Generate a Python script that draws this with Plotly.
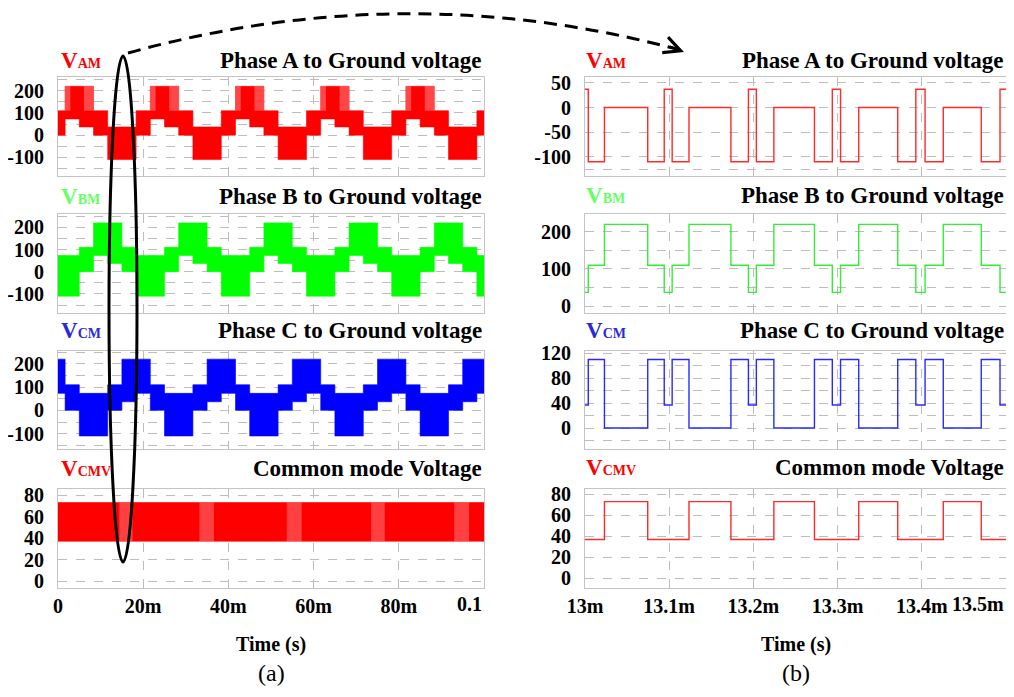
import plotly.graph_objects as go

# page has an 8px body margin; figure is sized to fit the 1014x697 window inside it
OFF = 8
W, H = 1014 - 2 * OFF, 697 - 2 * OFF

# ---------------- (a) full-time waveforms: band envelopes (time in ms) ----------------
A_t = [0, 1.67, 5, 8.33, 11.67, 18.33, 21.67, 25, 28.33, 31.67, 38.33, 41.67, 45, 48.33, 51.67,
       58.33, 61.67, 65, 68.33, 71.67, 78.33, 81.67, 85, 88.33, 91.67, 98.33, 100]
A_hi = [110, 220, 220, 110, 37, 110, 220, 220, 110, 37, 110, 220, 220, 110, 37,
        110, 220, 220, 110, 37, 110, 220, 220, 110, 37, 110]
A_lo = [0, 73, 37, 0, -110, 0, 73, 37, 0, -110, 0, 73, 37, 0, -110,
        0, 73, 37, 0, -110, 0, 73, 37, 0, -110, 0]

B_t = [0, 5, 8.33, 11.67, 15, 18.33, 25, 28.33, 31.67, 35, 38.33, 45, 48.33, 51.67, 55,
       58.33, 65, 68.33, 71.67, 75, 78.33, 85, 88.33, 91.67, 95, 98.33, 100]
B_hi = [73, 110, 220, 220, 110, 73, 110, 220, 220, 110, 73, 110, 220, 220, 110,
        73, 110, 220, 220, 110, 73, 110, 220, 220, 110, 73]
B_lo = [-110, 0, 73, 37, 0, -110, 0, 73, 37, 0, -110, 0, 73, 37, 0,
        -110, 0, 73, 37, 0, -110, 0, 73, 37, 0, -110]

C_t = [0, 1.67, 5, 11.67, 15, 18.33, 21.67, 25, 31.67, 35, 38.33, 41.67, 45, 51.67, 55,
       58.33, 61.67, 65, 71.67, 75, 78.33, 81.67, 85, 91.67, 95, 98.33, 100]
C_hi = [220, 110, 73, 110, 220, 220, 110, 73, 110, 220, 220, 110, 73, 110, 220,
        220, 110, 73, 110, 220, 220, 110, 73, 110, 220, 220]
C_lo = [73, 0, -110, 0, 37, 73, 0, -110, 0, 37, 73, 0, -110, 0, 37,
        73, 0, -110, 0, 37, 73, 0, -110, 0, 37, 73]

M_t = [0, 100]
M_hi = [73]
M_lo = [37]

# lighter (sparse switching) zones: start, end, low, high
M_lz_t0 = [14.4, 33.2, 53.7, 73.5, 93.0]
M_lz_t1 = [17.5, 36.6, 57.2, 76.7, 96.5]
M_lz_lo = [37, 37, 37, 37, 37]
M_lz_hi = [73, 73, 73, 73, 73]

A_lz_t0 = [1.67, 6.1, 21.67, 26.1, 41.67, 46.1, 61.67, 66.1, 81.67, 86.1]
A_lz_t1 = [2.9, 8.33, 22.9, 28.33, 42.9, 48.33, 62.9, 68.33, 82.9, 88.33]
A_lz_lo = [110] * 10
A_lz_hi = [220] * 10

# ---------------- (b) zoomed switching waveforms (time in ms) ----------------
R_t = [13.0, 13.0039, 13.0231, 13.0745, 13.0941, 13.1035, 13.1235, 13.1733, 13.1941, 13.2035,
       13.2243, 13.2725, 13.2937, 13.3035, 13.3251, 13.3714, 13.3929, 13.4039, 13.4255, 13.4706,
       13.4929, 13.5]
RA = [37, -110, 0, -110, 37, -110, 0, -110, 37, -110, 0, -110, 37, -110, 0, -110, 37, -110, 0, -110, 37]
RB = [37, 110, 220, 110, 37, 110, 220, 110, 37, 110, 220, 110, 37, 110, 220, 110, 37, 110, 220, 110, 37]
RC = [37, 110, 0, 110, 37, 110, 0, 110, 37, 110, 0, 110, 37, 110, 0, 110, 37, 110, 0, 110, 37]
RM = [37, 37, 73, 37, 37, 37, 73, 37, 37, 37, 73, 37, 37, 37, 73, 37, 37, 37, 73, 37, 37]

L_xticks = [0, 20, 40, 60, 80, 100]
L_xtext = ["0", "20m", "40m", "60m", "80m", "0.1"]
R_xticks = [13.0, 13.1, 13.2, 13.3, 13.4, 13.5]
R_xtext = ["13m", "13.1m", "13.2m", "13.3m", "13.4m", "13.5m"]

titles = ["Phase A to Ground voltage", "Phase B to Ground voltage",
          "Phase C to Ground voltage", "Common mode Voltage"]
vlabels = [("AM", "#ff0000"), ("BM", "#66ff66"), ("CM", "#2a2ad8"), ("CMV", "#ff0000")]

FONT = "Liberation Serif"
fig = go.Figure()

rows_px = [(77, 176), (214, 313), (351, 449), (489, 588)]
left_px = (58, 484)
right_px = (585, 1006)


def fx(p):
    return (p - OFF) / W


def fy(p):
    return 1 - (p - OFF) / H


def band(k, t, hi, lo, color):
    xa, ya = "x%d" % k, "y%d" % k
    fig.add_trace(go.Scatter(x=t, y=lo + [lo[-1]], mode="lines",
                             line=dict(width=0.6, shape="hv", color=color),
                             xaxis=xa, yaxis=ya, showlegend=False, hoverinfo="skip"))
    fig.add_trace(go.Scatter(x=t, y=hi + [hi[-1]], mode="lines",
                             line=dict(width=0.6, shape="hv", color=color),
                             fill="tonexty", fillcolor=color,
                             xaxis=xa, yaxis=ya, showlegend=False, hoverinfo="skip"))


def light(k, t0, t1, lo, hi, color):
    xs, ys = [], []
    for a, b, l, h in zip(t0, t1, lo, hi):
        xs += [a, b, b, a, a, None]
        ys += [l, l, h, h, l, None]
    fig.add_trace(go.Scatter(x=xs, y=ys, mode="lines", line=dict(width=0),
                             fill="toself", fillcolor=color,
                             xaxis="x%d" % k, yaxis="y%d" % k, showlegend=False, hoverinfo="skip"))


def step(k, t, v, color):
    fig.add_trace(go.Scatter(x=t, y=v + [v[-1]], mode="lines",
                             line=dict(width=1.4, shape="hv", color=color),
                             xaxis="x%d" % k, yaxis="y%d" % k, showlegend=False, hoverinfo="skip"))


band(1, A_t, A_hi, A_lo, "#ff0000")
light(1, A_lz_t0, A_lz_t1, A_lz_lo, A_lz_hi, "rgba(255,255,255,0.28)")
band(3, B_t, B_hi, B_lo, "#00ff00")
band(5, C_t, C_hi, C_lo, "#0000ff")
band(7, M_t, M_hi, M_lo, "#ff0000")
light(7, M_lz_t0, M_lz_t1, M_lz_lo, M_lz_hi, "rgba(255,255,255,0.25)")

step(2, R_t, RA, "#ff2a2a")
step(4, R_t, RB, "#33ee33")
step(6, R_t, RC, "#2a2aff")
step(8, R_t, RM, "#ff2a2a")

tickfont = dict(family=FONT, size=20, color="black", weight="bold")
axbase = dict(showline=True, mirror=True, linecolor="#c4c4c4", linewidth=1,
              showgrid=True, gridcolor="#bdbdbd", griddash="dash", gridwidth=1,
              zeroline=False, ticks="", tickfont=tickfont, automargin=False)

y_specs = {
    1: dict(range=[-184, 262], tickvals=[-150, -100, -50, 0, 50, 100, 150, 200, 250],
            ticktext=["", "-100", "", "0", "", "100", "", "200", ""]),
    3: dict(range=[-186, 260], tickvals=[-150, -100, -50, 0, 50, 100, 150, 200, 250],
            ticktext=["", "-100", "", "0", "", "100", "", "200", ""]),
    5: dict(range=[-166, 255], tickvals=[-150, -100, -50, 0, 50, 100, 150, 200, 250],
            ticktext=["", "-100", "", "0", "", "100", "", "200", ""]),
    7: dict(range=[-6.5, 85.6], tickvals=[0, 20, 40, 60, 80],
            ticktext=["0", "20", "40", "60", "80"]),
    2: dict(range=[-139, 62], tickvals=[-125, -100, -50, 0, 50],
            ticktext=["", "-100", "-50", "0", "50"]),
    4: dict(range=[-18.6, 248], tickvals=[0, 50, 100, 150, 200],
            ticktext=["0", "", "100", "", "200"]),
    6: dict(range=[-33.6, 123.7], tickvals=[-20, 0, 20, 40, 60, 80, 100, 120],
            ticktext=["", "0", "", "40", "", "80", "", "120"]),
    8: dict(range=[-9.2, 85], tickvals=[0, 20, 40, 60, 80],
            ticktext=["0", "20", "40", "60", "80"]),
}

lay = dict(width=W, height=H, margin=dict(l=0, r=0, t=0, b=0, autoexpand=False),
           paper_bgcolor="white", plot_bgcolor="white", showlegend=False)

for r in range(4):
    top, bot = rows_px[r]
    for side in range(2):
        k = 2 * r + 1 + side
        xp = left_px if side == 0 else right_px
        xd = dict(axbase, domain=[fx(xp[0]), fx(xp[1])], anchor="y%d" % k)
        if side == 0:
            xd.update(range=[0, 100], tickvals=L_xticks[:-1], ticktext=L_xtext[:-1])
        else:
            xd.update(range=[13.0, 13.5], tickvals=R_xticks[:-1], ticktext=R_xtext[:-1])
        xd.update(showticklabels=(r == 3), ticklabelstandoff=0)
        yd = dict(axbase, domain=[fy(bot), fy(top)], anchor="x%d" % k, ticklabelstandoff=9)
        yd.update(y_specs[k])
        lay["xaxis%d" % k] = xd
        lay["yaxis%d" % k] = yd

lay["xaxis"] = lay.pop("xaxis1")
lay["yaxis"] = lay.pop("yaxis1")
fig.update_layout(**lay)

ann = []
label_y = [(61, 60), (197, 196), (330, 330), (468, 467)]
for r in range(4):
    for side in range(2):
        xl = left_px[0] + 1 if side == 0 else right_px[0] - 1
        xr = left_px[1] if side == 0 else right_px[1]
        yc = label_y[r][side]
        sub, col = vlabels[r]
        ann.append(dict(x=fx(xl), y=fy(yc), xref="paper", yref="paper", xanchor="left",
                        yanchor="middle", showarrow=False,
                        text="V<span style='font-size:14px'>%s</span>" % sub,
                        font=dict(family=FONT, size=23, color=col, weight="bold")))
        ann.append(dict(x=fx(xr), y=fy(yc), xref="paper", yref="paper", xanchor="right",
                        yanchor="middle", showarrow=False, text=titles[r],
                        font=dict(family=FONT, size=23, color="black", weight="bold")))

# last x tick labels, right-aligned at panel edge
ann.append(dict(x=L_xticks[-1], y=fy(604), xref="x7", yref="paper", xanchor="right",
                yanchor="middle", showarrow=False, text=L_xtext[-1], font=tickfont))
ann.append(dict(x=R_xticks[-1], y=fy(604), xref="x8", yref="paper", xanchor="right",
                yanchor="middle", showarrow=False, text=R_xtext[-1], font=tickfont))

for xc, lab in [(271, "(a)"), (796, "(b)")]:
    ann.append(dict(x=fx(xc), y=fy(644), xref="paper", yref="paper", showarrow=False,
                    xanchor="center", yanchor="middle",
                    text="Time (s)", font=dict(family=FONT, size=20, color="black", weight="bold")))
    ann.append(dict(x=fx(xc), y=fy(673), xref="paper", yref="paper", showarrow=False,
                    xanchor="center", yanchor="middle",
                    text=lab, font=dict(family=FONT, size=24, color="black")))

# arrowhead of dashed curve
ann.append(dict(x=fx(684), y=fy(52), xref="paper", yref="paper", ax=-16, ay=-6,
                showarrow=True, arrowhead=5, arrowsize=1.3, arrowwidth=2.5, arrowcolor="black", text=""))
fig.update_layout(annotations=ann)


def P(x, y):
    return "%.5f,%.5f" % (fx(x), fy(y))


fig.add_shape(type="circle", xref="paper", yref="paper",
              x0=fx(109), x1=fx(137), y0=fy(562), y1=fy(56),
              line=dict(color="black", width=3))
fig.add_shape(type="path", xref="paper", yref="paper",
              path="M %s Q %s %s" % (P(128, 53), P(406, -24), P(680, 50)),
              line=dict(color="black", width=3, dash="13px,8px"))

fig.write_html("out.html")
